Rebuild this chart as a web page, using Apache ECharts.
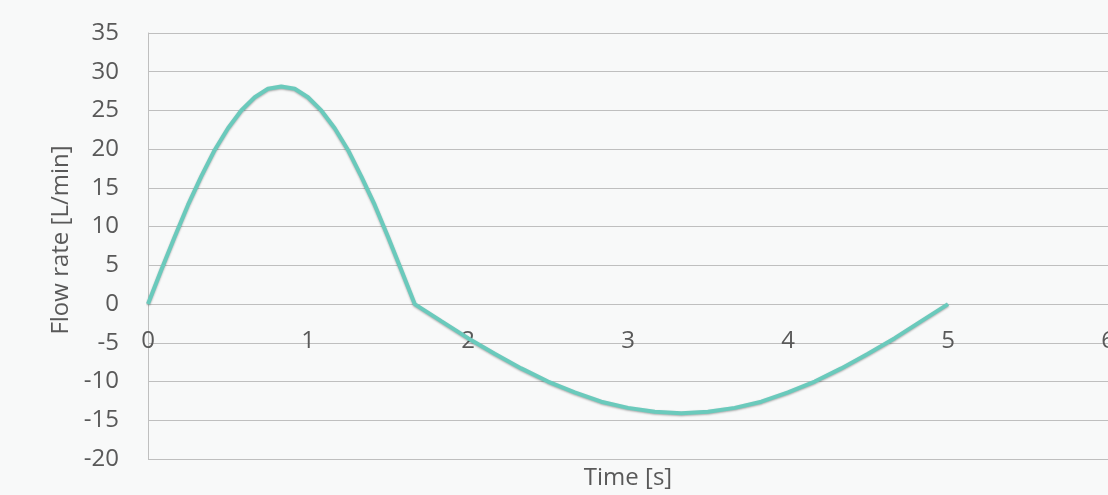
<!DOCTYPE html>
<html>
<head>
<meta charset="utf-8">
<script src="https://cdn.jsdelivr.net/npm/echarts@6/dist/echarts.min.js"></script>
<style>
html,body{margin:0;padding:0;background:#f8f9f9;}
#c{width:1108px;height:495px;}
</style>
</head>
<body>
<div id="c"></div>
<script>
// Time [s]
const times = [0, 0.083, 0.167, 0.25, 0.333, 0.417, 0.5, 0.583, 0.667, 0.75, 0.833,
  0.917, 1.0, 1.083, 1.167, 1.25, 1.333, 1.417, 1.5, 1.583, 1.667,
  1.833, 2.0, 2.167, 2.333, 2.5, 2.667, 2.833, 3.0, 3.167, 3.333,
  3.5, 3.667, 3.833, 4.0, 4.167, 4.333, 4.5, 4.667, 4.833, 5.0];
// Flow rate [L/min]
const flow = [0, 4.4, 8.7, 12.8, 16.5, 19.9, 22.7, 25.0, 26.7, 27.8, 28.1,
  27.8, 26.7, 25.0, 22.7, 19.9, 16.5, 12.8, 8.7, 4.4, 0,
  -2.2, -4.4, -6.4, -8.3, -10.0, -11.4, -12.6, -13.4, -13.9, -14.1,
  -13.9, -13.4, -12.6, -11.4, -10.0, -8.3, -6.4, -4.4, -2.2, 0];
const xTicks = [0, 1, 2, 3, 4, 5, 6];
const yTicks = [-20, -15, -10, -5, 0, 5, 10, 15, 20, 25, 30, 35];

const FONT = 'Open Sans';
const FS = 24;
const GRID_TOP = 33, GRID_BOTTOM = 36, H = 495;
const yMin = yTicks[0], yMax = yTicks[yTicks.length - 1];
// shift the x axis up so that it crosses the y axis at 0 (like Excel)
const plotH = H - GRID_TOP - GRID_BOTTOM;
const zeroOffset = -plotH * (0 - yMin) / (yMax - yMin);

const chart = echarts.init(document.getElementById('c'));
chart.setOption({
  backgroundColor: '#f8f9f9',
  animation: false,
  grid: {left: 148, right: 0, top: GRID_TOP, bottom: GRID_BOTTOM, containLabel: false, outerBoundsMode: 'none'},
  xAxis: {
    type: 'value',
    min: xTicks[0], max: xTicks[xTicks.length - 1], interval: 1,
    offset: zeroOffset,
    name: 'Time [s]', nameLocation: 'middle', nameGap: 162,
    nameTextStyle: {fontFamily: FONT, fontSize: FS, color: '#595959'},
    axisLine: {onZero: false, lineStyle: {color: '#bfbfbf', width: 1}},
    axisTick: {show: false},
    splitLine: {show: false},
    axisLabel: {fontFamily: FONT, fontSize: FS, color: '#595959', margin: 25, showMaxLabel: true}
  },
  yAxis: {
    type: 'value',
    min: yMin, max: yMax, interval: 5,
    name: 'Flow rate [L/min]', nameLocation: 'middle', nameGap: 72,
    nameTextStyle: {fontFamily: FONT, fontSize: FS, color: '#595959', padding: [0, 0, 0, 12]},
    axisLine: {show: true, onZero: false, lineStyle: {color: '#bfbfbf', width: 1}},
    axisTick: {show: false},
    splitLine: {lineStyle: {color: '#bfbfbf', width: 1}},
    axisLabel: {fontFamily: FONT, fontSize: FS, color: '#595959', margin: 29}
  },
  series: [{
    type: 'line',
    data: times.map((t, i) => [t, flow[i]]),
    showSymbol: false,
    smooth: false,
    lineStyle: {color: '#6acabc', width: 4, shadowColor: 'rgba(0,0,0,0.3)', shadowBlur: 2, shadowOffsetY: 1},
    z: 5
  }]
});
</script>
</body>
</html>
